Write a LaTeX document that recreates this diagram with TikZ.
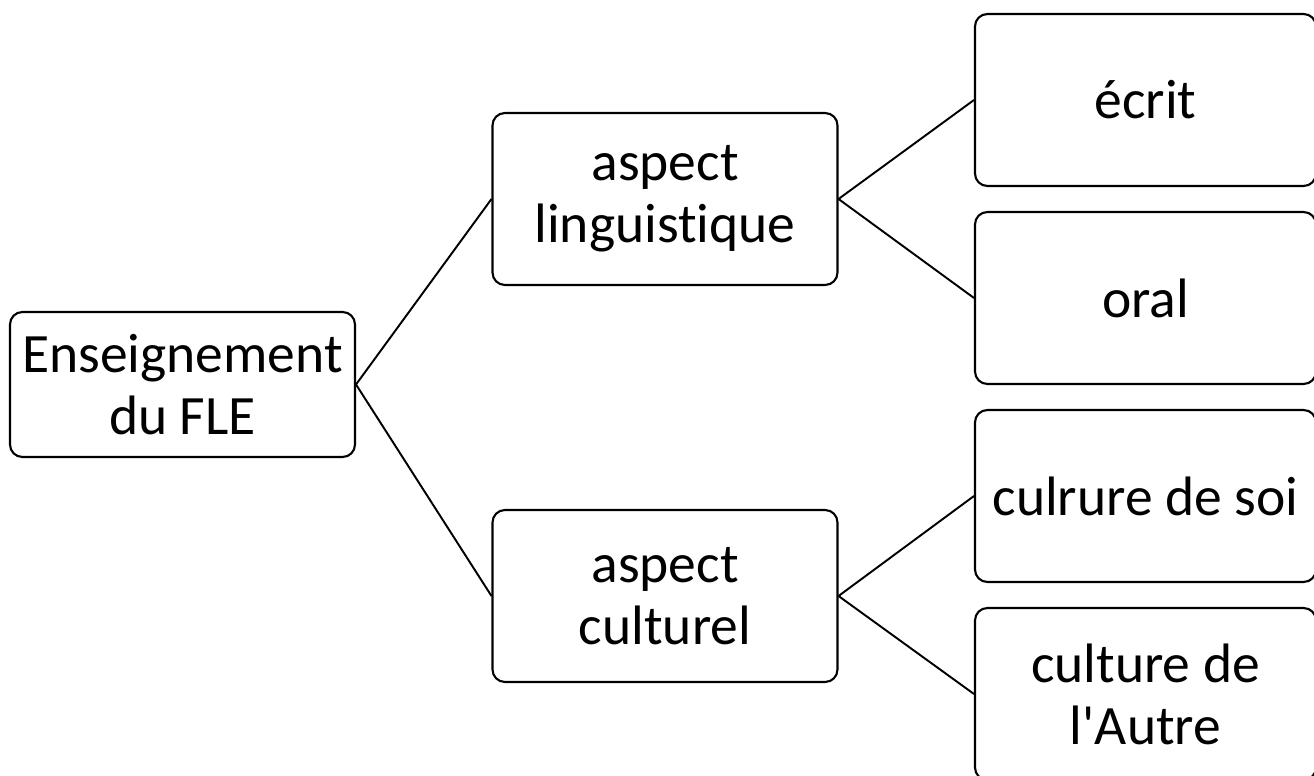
\documentclass[tikz,border=0pt]{standalone}
\usepackage{fontspec}
\setmainfont{Carlito}[Ligatures={NoCommon}]
\usepackage{tikz}
\usetikzlibrary{positioning}

\begin{document}
\begin{tikzpicture}[
  x=0.02cm, y=-0.02cm,
  boxbase/.style={draw=black, line width=1.2pt, rounded corners=7pt, fill=white,
    align=center, inner sep=0pt, font=\fontsize{31.6}{35.3}\selectfont},
  boxroot/.style={boxbase, minimum width=6.9cm, minimum height=2.9cm,
    execute at begin node={\rule{0pt}{1em}}},
  boxmid/.style={boxbase, minimum width=6.9cm, minimum height=3.44cm},
  boxleaf/.style={boxbase, minimum width=6.82cm, minimum height=3.44cm},
  link/.style={black, line width=1.1pt},
]
\useasboundingbox (0,0) rectangle (1314,776);
\node[boxroot] (fle) at (182.5,384.5) {Enseignement\\du FLE};
\node[boxmid] (ling) at (665,199) {aspect\\linguistique};
\node[boxmid] (cult) at (665,596) {aspect\\culturel};
\foreach \nom/\py/\txt in {%
  ecrit/100/{écrit},
  oral/298/{oral},
  soi/496/{culrure de soi},
  autre/694/{culture de\\l\textquotesingle Autre}%
} {
  \node[boxleaf] (\nom) at (1145.5,\py) {\txt};
}
\draw[link] (fle.east) -- (ling.west);
\draw[link] (fle.east) -- (cult.west);
\draw[link] (ling.east) -- (ecrit.west);
\draw[link] (ling.east) -- (oral.west);
\draw[link] (cult.east) -- (soi.west);
\draw[link] (cult.east) -- (autre.west);
\end{tikzpicture}
\end{document}
